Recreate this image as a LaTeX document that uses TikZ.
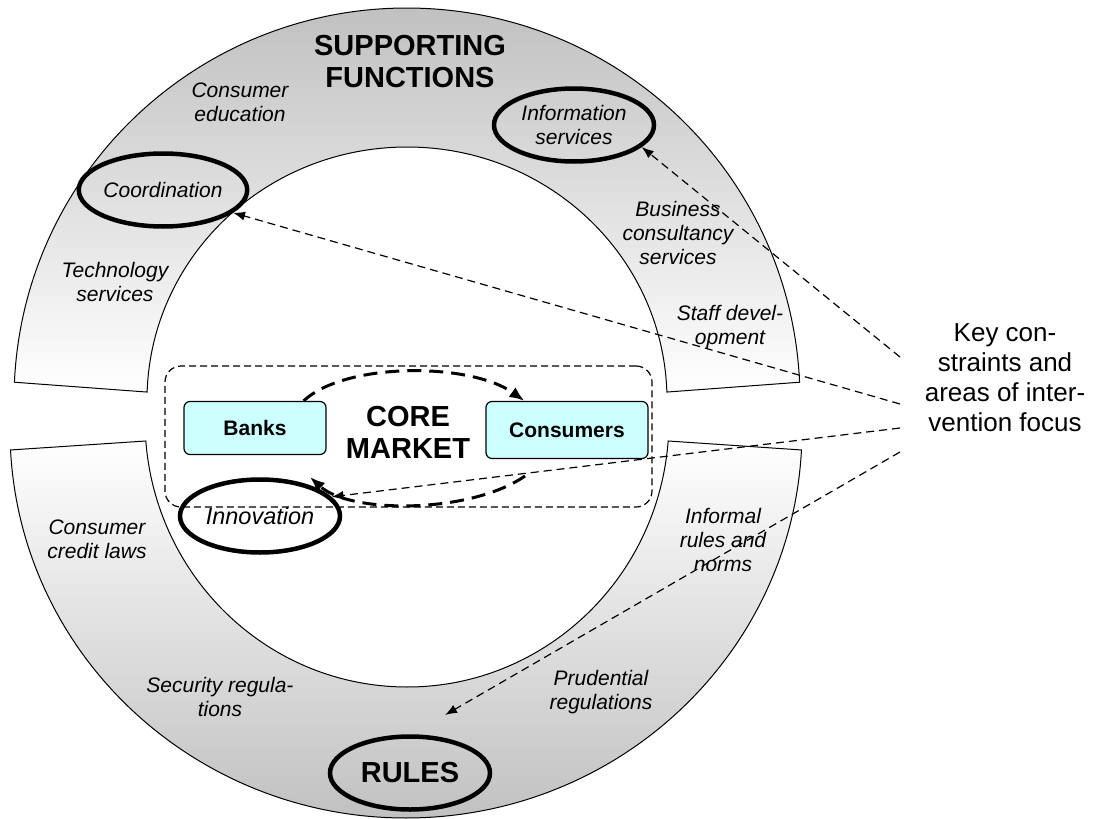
\documentclass[tikz,border=0pt]{standalone}
\usepackage{fontspec}
\setmainfont{Liberation Sans}
\usetikzlibrary{arrows.meta,shapes.geometric,calc}
\definecolor{boxcyan}{RGB}{204,255,255}

\begin{document}
\begin{tikzpicture}[x=1pt,y=-1pt,
  arch/.style={draw=black,line width=1pt},
  lbl/.style={font=\itshape\fontsize{21}{24}\selectfont,align=center},
  heading/.style={font=\bfseries\fontsize{29}{32}\selectfont,align=center},
  focus/.style={ellipse,draw,line width=4.5pt,minimum width=160,minimum height=73,inner sep=0pt,font=\itshape\fontsize{21}{24}\selectfont,align=center},
  actor/.style={draw,line width=1.2pt,fill=boxcyan,rounded corners=6pt,font=\bfseries\fontsize{21}{24}\selectfont},
  pointer/.style={line width=1.2pt,dash pattern=on 8pt off 5pt,-{Latex[length=12pt,width=9pt]}},
  flow/.style={line width=3pt,dash pattern=on 14pt off 8pt,-{Latex[length=15pt,width=12pt]}}]
\useasboundingbox (0,0) rectangle (1093,819);

% supporting functions arch
\draw[arch,top color=black!25,bottom color=white]
  ($(407,400)+(182.6:393 and 392)$) arc[start angle=182.6,end angle=357.4,x radius=393,y radius=392]
  -- ($(407,400)+(358.2:260 and 253)$) arc[start angle=358.2,end angle=181.8,x radius=260,y radius=253] -- cycle;
% rules arch
\draw[arch,top color=white,bottom color=black!25]
  ($(406,430)+(177.05:396 and 388)$) arc[start angle=177.05,end angle=2.95,x radius=396,y radius=388]
  -- ($(407,420)+(4.51:262 and 267)$) arc[start angle=4.51,end angle=175.49,x radius=262,y radius=267] -- cycle;

% core market
\node[draw,line width=1.2pt,dash pattern=on 7pt off 4pt,rounded corners=16pt,minimum width=487,minimum height=141] (core) at (408.5,436.5) {};
\node[actor,minimum width=142,minimum height=53] (banks) at (255,428) {Banks};
\node[actor,minimum width=162,minimum height=57] (consumers) at (567,430) {Consumers};
\node[heading] (coremkt) at (408,432) {CORE\\MARKET};

\node[heading] (supfun) at (410,62) {SUPPORTING\\FUNCTIONS};
\node[lbl] (consedu) at (240,102) {Consumer\\education};
\node[lbl] (techsvc) at (115,282) {Technology\\services};
\node[lbl] (bizsvc) at (678,233) {Business\\consultancy\\services};
\node[lbl] (staffdev) at (730,327) {Staff devel-\\opment};
\node[lbl] (credlaw) at (97,539) {Consumer\\credit laws};
\node[lbl] (secreg) at (220,697) {Security regula-\\tions};
\node[lbl] (prudreg) at (601,692) {Prudential\\regulations};
\node[lbl] (informal) at (723,540) {Informal\\rules and\\norms};

% focus areas
\node[focus] (coord) at (163,190) {Coordination};
\node[focus] (info) at (574,125) {Information\\services};
\node[focus,font=\itshape\fontsize{23.5}{26}\selectfont] (innov) at (260,516) {Innovation};
\node[focus,font=\bfseries\fontsize{29}{32}\selectfont] (rules) at (410,773) {RULES};

\node[font=\fontsize{26}{30}\selectfont,align=center] (key) at (1005,378) {Key con-\\straints and\\areas of inter-\\vention focus};

\coordinate (k1) at (900,357);
\coordinate (k2) at (900,404);
\coordinate (k3) at (900,428);
\coordinate (k4) at (900,452);
\coordinate (rulestip) at (445,715);
\draw[pointer] (k1) -- (info.-18);
\draw[pointer] (k2) -- (coord.-18);
\draw[pointer] (k3) -- (innov.15);
\draw[pointer] (k4) -- (rulestip);

% market loop
\coordinate (flowin) at (525,476);
\coordinate (flowout) at (310,477);
\draw[flow] ([xshift=-23pt]banks.north east) .. controls (345,362) and (470,362) .. ([xshift=39pt]consumers.north west);
\draw[flow] (flowin) .. controls (470,514) and (350,514) .. (flowout);
\end{tikzpicture}
\end{document}
